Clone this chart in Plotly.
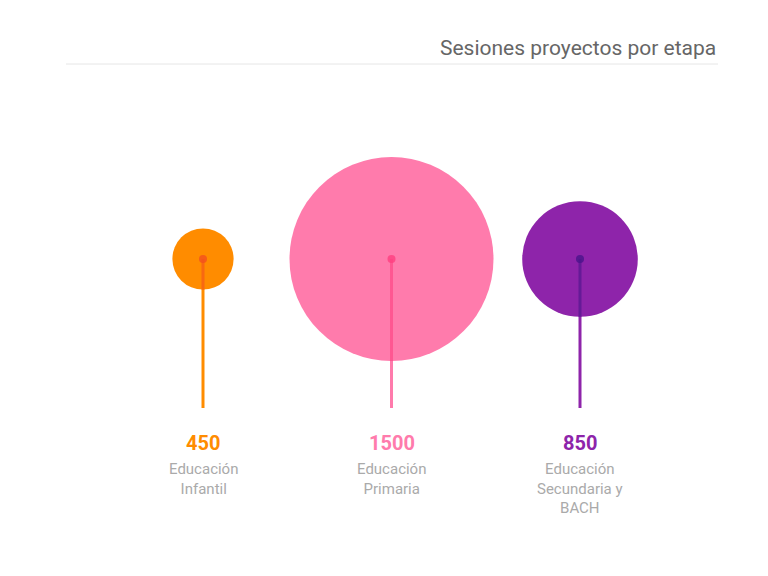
import plotly.graph_objects as go

categories = ["Educación<br>Infantil", "Educación<br>Primaria", "Educación<br>Secundaria y<br>BACH"]
values = [450, 1500, 850]
colors = ["#FF8C00", "#FF7BAC", "#8E24AA"]
inner_colors = ["#F4511E", "#FF4081", "#4A148C"]

x = list(range(len(values)))
cy, bottom = 251, 400
max_d = 204

fig = go.Figure()

for i, v in enumerate(values):
    d = v / max(values) * max_d
    r = d / 2
    # stem below the bubble
    fig.add_trace(go.Scatter(x=[i, i], y=[cy, bottom], mode="lines",
                             line=dict(color=colors[i], width=3), hoverinfo="skip"))
    # bubble
    fig.add_trace(go.Scatter(x=[i], y=[cy], mode="markers",
                             marker=dict(size=d, color=colors[i], line=dict(width=0)),
                             hovertemplate=f"{v}<extra></extra>"))
    # stem inside the bubble
    fig.add_trace(go.Scatter(x=[i, i], y=[cy, min(cy + r, bottom)], mode="lines",
                             line=dict(color=inner_colors[i], width=3), opacity=0.6,
                             hoverinfo="skip"))
    fig.add_trace(go.Scatter(x=[i], y=[cy], mode="markers",
                             marker=dict(size=8, color=inner_colors[i]), opacity=0.8,
                             hoverinfo="skip"))
    fig.add_annotation(x=i, y=435, text=f"<b>{v}</b>", showarrow=False,
                       font=dict(size=20, color=colors[i], family="Roboto"))
    fig.add_annotation(x=i, y=450, text=categories[i], showarrow=False, yanchor="top",
                       font=dict(size=15, color="#aaaaaa", family="Roboto"))

fig.add_shape(type="line", xref="paper", yref="y", x0=58/768, x1=710/768, y0=56, y1=56,
              line=dict(color="#e6e6e6", width=1))
fig.add_annotation(xref="paper", yref="y", x=710/768, y=40, xanchor="right",
                   text="Sesiones proyectos por etapa", showarrow=False,
                   font=dict(size=21, color="#666666", family="Roboto"))

sp = 188.5
fig.update_layout(
    width=768, height=576, margin=dict(l=0, r=0, t=0, b=0),
    plot_bgcolor="white", paper_bgcolor="white", showlegend=False,
    xaxis=dict(range=[-195 / sp, (768 - 195) / sp], visible=False),
    yaxis=dict(range=[576, 0], visible=False),
)

fig.write_html("out.html")
